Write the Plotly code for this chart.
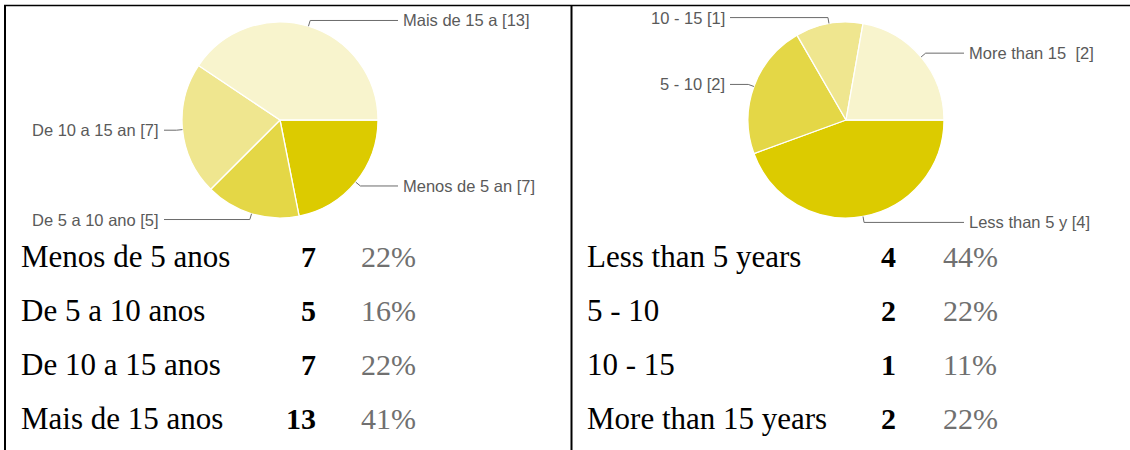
import math
import plotly.graph_objects as go

# ---------------- data ----------------
left_categories = ["Menos de 5 anos", "De 5 a 10 anos", "De 10 a 15 anos", "Mais de 15 anos"]
left_short = ["Menos de 5 an", "De 5 a 10 ano", "De 10 a 15 an", "Mais de 15 a"]
left_counts = [7, 5, 7, 13]

right_categories = ["Less than 5 years", "5 - 10", "10 - 15", "More than 15 years"]
right_short = ["Less than 5 y", "5 - 10", "10 - 15", "More than 15 "]
right_counts = [4, 2, 1, 2]

slice_colors = ["#DCCB00", "#E4D746", "#EFE68F", "#F8F4CD"]

# ---------------- layout constants ----------------
W, H = 1130, 450
R = 98
PIE_CY = 120
LEFT_CX, RIGHT_CX = 280, 846
ROW_Y = [256, 310, 364, 418]
LABEL_FONT = dict(family="Arial, Liberation Sans, sans-serif", size=16.5, color="#5a5a5a")
CAT_FONT = dict(family="Liberation Serif, Times New Roman, serif", size=31, color="#000000")
NUM_FONT = dict(family="Liberation Serif, Times New Roman, serif", size=30, color="#000000")
PCT_FONT = dict(family="Liberation Serif, Times New Roman, serif", size=30, color="#707070")


def px(x):
    return x / W


def py(y):
    return 1 - y / H


fig = go.Figure()
annotations = []
shapes = []


def add_pie(cx, counts, short):
    fig.add_trace(go.Pie(
        values=counts,
        labels=short,
        sort=False,
        direction="clockwise",
        rotation=90,
        marker=dict(colors=slice_colors, line=dict(color="white", width=1.3)),
        textinfo="none",
        hoverinfo="label+value+percent",
        showlegend=False,
        domain=dict(x=[px(cx - R), px(cx + R)], y=[py(PIE_CY + R), py(PIE_CY - R)]),
    ))
    total = sum(counts)
    start = 90.0
    for v, s in zip(counts, short):
        span = 360.0 * v / total
        mid = math.radians(start + span / 2)
        start += span
        p_x = cx + R * math.sin(mid)
        p_y = PIE_CY - R * math.cos(mid)
        e_x = cx + (R + 6) * math.sin(mid)
        e_y = PIE_CY - (R + 6) * math.cos(mid)
        right_side = math.sin(mid) >= 0
        if right_side:
            end_x = cx + 118
            tx = cx + 121
            anchor = "left"
        else:
            end_x = cx - 116
            tx = cx - 119
            anchor = "right"
        shapes.append(dict(
            type="path", xref="paper", yref="paper",
            path=f"M {px(p_x)},{py(p_y)} L {px(e_x)},{py(e_y)} L {px(end_x)},{py(e_y)}",
            line=dict(color="#6b6b6b", width=1),
        ))
        annotations.append(dict(
            x=px(tx), y=py(e_y), xref="paper", yref="paper",
            text=f"{s} [{v}]", showarrow=False, xanchor=anchor, yanchor="middle",
            font=LABEL_FONT,
        ))


def add_table(x_label, x_num, x_pct, cats, counts):
    total = sum(counts)
    for yy, c, v in zip(ROW_Y, cats, counts):
        pct = int(100 * v / total + 0.5)
        annotations.append(dict(x=px(x_label), y=py(yy), xref="paper", yref="paper",
                                text=c, showarrow=False, xanchor="left", yanchor="middle",
                                font=CAT_FONT))
        annotations.append(dict(x=px(x_num), y=py(yy), xref="paper", yref="paper",
                                text=f"<b>{v}</b>", showarrow=False, xanchor="right",
                                yanchor="middle", font=NUM_FONT))
        annotations.append(dict(x=px(x_pct), y=py(yy), xref="paper", yref="paper",
                                text=f"{pct}%", showarrow=False, xanchor="left",
                                yanchor="middle", font=PCT_FONT))


add_pie(LEFT_CX, left_counts, left_short)
add_pie(RIGHT_CX, right_counts, right_short)
add_table(19, 318, 359, left_categories, left_counts)
add_table(585, 898, 941, right_categories, right_counts)

# frame lines
shapes.append(dict(type="line", xref="paper", yref="paper",
                   x0=px(4), x1=px(W), y0=py(5.5), y1=py(5.5),
                   line=dict(color="black", width=1.5)))
shapes.append(dict(type="line", xref="paper", yref="paper",
                   x0=px(5), x1=px(5), y0=py(5), y1=py(H),
                   line=dict(color="black", width=2)))
shapes.append(dict(type="line", xref="paper", yref="paper",
                   x0=px(571.5), x1=px(571.5), y0=py(5), y1=py(H),
                   line=dict(color="black", width=2)))

fig.update_layout(
    width=W, height=H,
    margin=dict(l=0, r=0, t=0, b=0),
    paper_bgcolor="white",
    plot_bgcolor="white",
    annotations=annotations,
    shapes=shapes,
)

fig.write_html("out.html")
